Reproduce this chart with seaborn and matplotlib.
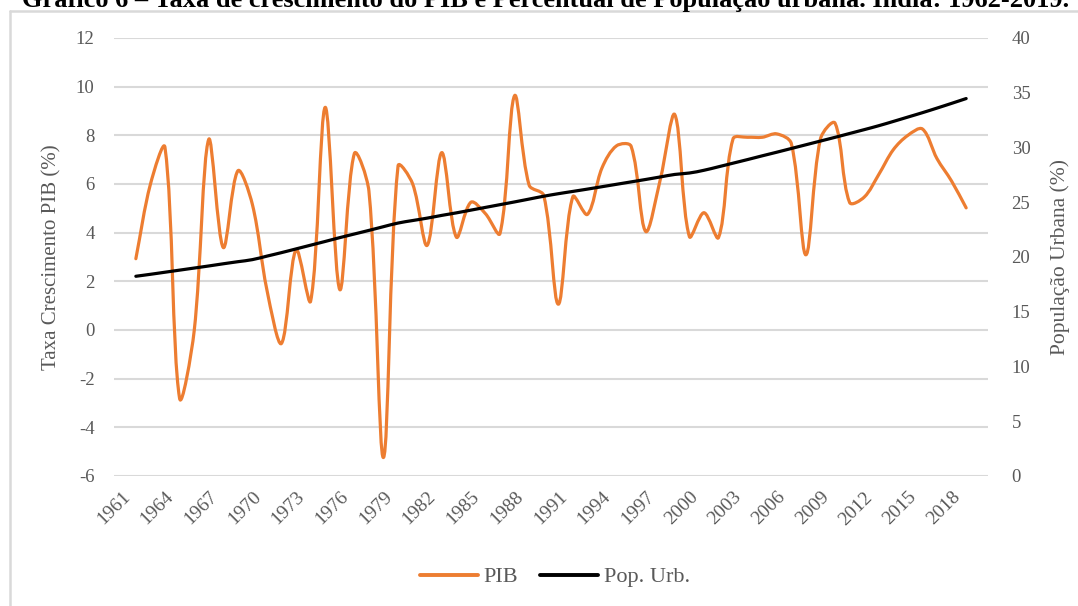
import matplotlib
matplotlib.use('Agg')
import numpy as np
import pandas as pd
import seaborn as sns
import matplotlib.pyplot as plt
from matplotlib.path import Path
from matplotlib.patches import PathPatch
from matplotlib.lines import Line2D

# Category axis runs 1961..2020, data 1962..2019
axis_years = list(range(1961, 2021))
tick_years = list(range(1961, 2019, 3))
years = list(range(1962, 2020))

pib = [2.93, 5.99, 7.50, -2.80, -0.06, 7.83, 3.39, 6.54, 5.16, 1.64,
       -0.55, 3.30, 1.19, 9.15, 1.66, 7.25, 5.71, -5.24, 6.74, 6.01,
       3.48, 7.29, 3.82, 5.25, 4.78, 3.97, 9.63, 5.95, 5.53, 1.06,
       5.48, 4.75, 6.66, 7.57, 7.55, 4.05, 6.18, 8.85, 3.84, 4.82,
       3.80, 7.86, 7.92, 7.92, 8.06, 7.66, 3.09, 7.86, 8.50, 5.24,
       5.46, 6.39, 7.41, 8.00, 8.26, 7.04, 6.12, 5.02]

pop_urb = [18.24, 18.42, 18.61, 18.80, 18.99, 19.18, 19.38, 19.57, 19.76, 20.08,
           20.40, 20.74, 21.08, 21.42, 21.77, 22.10, 22.43, 22.77, 23.10, 23.33,
           23.55, 23.80, 24.03, 24.28, 24.53, 24.78, 25.03, 25.29, 25.55, 25.78,
           25.99, 26.20, 26.42, 26.64, 26.86, 27.08, 27.31, 27.54, 27.67, 27.92,
           28.24, 28.57, 28.90, 29.24, 29.57, 29.91, 30.25, 30.59, 30.93, 31.28,
           31.63, 31.99, 32.38, 32.78, 33.18, 33.60, 34.03, 34.47]

df = pd.DataFrame({'Ano': years, 'PIB': pib, 'PopUrb': pop_urb})
df['pos'] = df['Ano'].map({y: i for i, y in enumerate(axis_years)})

ORANGE = '#ED7D31'
GRAY = '#595959'
GRID = '#D9D9D9'


def smooth_path(xs, ys, sx, sy, t=1 / 3):
    # Excel-like smoothed line: Bezier segments, tangent split by screen segment lengths
    xs = np.asarray(xs, float)
    ys = np.asarray(ys, float)
    n = len(xs)
    pts = np.column_stack([xs, ys])
    scr = pts * [sx, sy]
    cout, cin = [], []
    for i in range(n):
        a, b = max(i - 1, 0), min(i + 1, n - 1)
        d = pts[b] - pts[a]
        l1 = np.hypot(*(scr[i] - scr[a]))
        l2 = np.hypot(*(scr[b] - scr[i]))
        tot = l1 + l2 if l1 + l2 > 0 else 1
        cout.append(pts[i] + d * t * l2 / tot)
        cin.append(pts[i] - d * t * l1 / tot)
    verts = [tuple(pts[0])]
    codes = [Path.MOVETO]
    for i in range(n - 1):
        verts += [tuple(cout[i]), tuple(cin[i + 1]), tuple(pts[i + 1])]
        codes += [Path.CURVE4] * 3
    return Path(verts, codes)


def smooth_line(ax, col, color, sy):
    sns.lineplot(data=df, x='pos', y=col, ax=ax, color=color)
    line = ax.lines[-1]
    xs, ys = line.get_data()
    line.set_visible(False)
    ax.add_patch(PathPatch(smooth_path(xs, ys, 14.57, sy), facecolor='none', edgecolor=color,
                           lw=2.3, capstyle='round', joinstyle='round'))


sns.set_style('white')
plt.rcParams['font.family'] = ['Liberation Serif', 'DejaVu Serif']
plt.rcParams['axes.unicode_minus'] = False

fig = plt.figure(figsize=(10.78, 6.06), dpi=100)
ax = fig.add_axes([114 / 1078, 1 - 476 / 606, (988 - 114) / 1078, (476 - 38) / 606])
ax2 = ax.twinx()

smooth_line(ax, 'PIB', ORANGE, 24.33)
smooth_line(ax2, 'PopUrb', 'black', 10.95)

ax.set_xlim(-0.5, len(axis_years) - 0.5)
ax.set_ylim(-6, 12)
ax.set_yticks(range(-6, 13, 2))
ax2.set_ylim(0, 40)
ax2.set_yticks(range(0, 41, 5))

ax.set_xticks([axis_years.index(y) for y in tick_years])
ax.set_xticklabels([str(y) for y in tick_years], rotation=45, ha='right', va='top',
                   rotation_mode='anchor')

ax.grid(axis='y', color=GRID, lw=1.5)
ax.set_axisbelow(True)
for a in (ax, ax2):
    for s in a.spines.values():
        s.set_visible(False)
    a.tick_params(length=0, labelsize=13.5, labelcolor=GRAY)
    a.set_xlabel('')
ax.tick_params(axis='y', pad=14)
ax.tick_params(axis='x', pad=9, labelsize=14)
ax2.tick_params(axis='y', pad=17)

ax.set_ylabel('Taxa Crescimento PIB (%)', fontsize=15, color=GRAY, labelpad=10)
ax2.set_ylabel('População Urbana (%)', fontsize=15.5, color=GRAY, labelpad=14)

handles = [Line2D([], [], color=ORANGE, lw=2.8), Line2D([], [], color='black', lw=2.8)]
fig.legend(handles, ['PIB', 'Pop. Urb.'], loc='center', bbox_to_anchor=(555 / 1078, 1 - 577 / 606),
           ncol=2, frameon=False, fontsize=16, labelcolor=GRAY, handlelength=2.6,
           columnspacing=1.0, handletextpad=0.25)

# chart frame (only top and left edges are inside the image)
fig.add_artist(Line2D([9.5 / 1078, 9.5 / 1078], [0, 1 - 10.5 / 606], color=GRID, lw=1.8,
                      transform=fig.transFigure))
fig.add_artist(Line2D([9.5 / 1078, 1], [1 - 10.5 / 606, 1 - 10.5 / 606], color=GRID, lw=1.8,
                      transform=fig.transFigure))

fig.text(546 / 1078, 1 - 7 / 606,
         'Gráfico 6 – Taxa de crescimento do PIB e Percentual de População urbana. Índia: 1962-2019.',
         ha='center', va='baseline', fontsize=19, fontweight='bold', color='black')

fig.savefig('out.png', dpi=100)
